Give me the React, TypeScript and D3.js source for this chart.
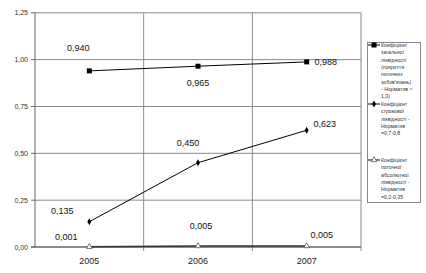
import React from "react";
import * as d3 from "d3";

const years = ["2005", "2006", "2007"];
const generalLiquidity = [0.94, 0.965, 0.988];
const quickLiquidity = [0.135, 0.45, 0.623];
const absoluteLiquidity = [0.001, 0.005, 0.005];
const yTicks = [0, 0.25, 0.5, 0.75, 1.0, 1.25];

const legendTexts = [
  ["Коефіцієнт", "загальної", "ліквідності", "(покриття", "поточних", "зобов'язань)", "- Норматив >", "1,0)"],
  ["Коефіцієнт", "строкової", "ліквідності -", "Норматив", "=0,7-0,8"],
  ["Коефіцієнт", "поточної", "абсолютної", "ліквідності -", "Норматив", "=0,2-0,35"],
];

// label offsets (px) relative to point: [dx, dy]
const labelOffsets = [
  [[-11, -23], [0, 17], [19, 0]],
  [[-27, -11], [-10, -20], [18, -6]],
  [[-23, -10], [3, -20], [15, -11]],
];

const fmt = (v: number) => v.toFixed(3).replace(".", ",");
const fmtTick = (v: number) => v.toFixed(2).replace(".", ",");

export default function App() {
  const W = 426, H = 273;
  const left = 35, right = 361, top = 12.8, bottom = 247;
  const x = d3.scaleBand().domain(years).range([left, right]).padding(0);
  const y = d3.scaleLinear().domain([0, 1.25]).range([bottom, top]);
  const cx = (d: string) => (x(d) as number) + x.bandwidth() / 2;
  const line = d3.line<number>().x((_, i) => cx(years[i])).y((v) => y(v));
  const series = [generalLiquidity, quickLiquidity, absoluteLiquidity];
  const font = "'Liberation Sans', Arial, sans-serif";

  const marker = (k: number, px: number, py: number, key: string) => {
    if (k === 0) return <rect key={key} x={px - 2.5} y={py - 2.5} width={5} height={5} fill="#000" />;
    if (k === 1) return <path key={key} d={d3.symbol(d3.symbolDiamond, 14)() as string} transform={`translate(${px},${py})`} fill="#000" />;
    return <path key={key} d={d3.symbol(d3.symbolTriangle, 14)() as string} transform={`translate(${px},${py})`} fill="#fff" stroke="#555" strokeWidth={0.8} />;
  };

  const legendY = [45, 104, 160];
  const lineH = 7.3;

  return (
    <svg width={W} height={H} style={{ position: "absolute", left: 0, top: 0, background: "#fff" }} fontFamily={font}>
      <rect x={0} y={0} width={W} height={H} fill="#fff" />
      {yTicks.map((t) => (
        <line key={"g" + t} x1={left} x2={right} y1={y(t)} y2={y(t)} stroke="#8a8a8a" strokeWidth={1} />
      ))}
      {years.slice(1).map((yr) => (
        <line key={"v" + yr} x1={x(yr) as number} x2={x(yr) as number} y1={top} y2={bottom + 4} stroke="#8a8a8a" strokeWidth={1} />
      ))}
      <line x1={right} x2={right} y1={top} y2={bottom + 4} stroke="#8a8a8a" strokeWidth={1} />
      <line x1={left} x2={left} y1={top} y2={bottom} stroke="#666" strokeWidth={1} />
      {yTicks.map((t) => (
        <g key={"t" + t}>
          <line x1={left - 4} x2={left} y1={y(t)} y2={y(t)} stroke="#666" />
          <text x={28} y={y(t)} textAnchor="end" dominantBaseline="central" fontSize={7} fill="#333">{fmtTick(t)}</text>
        </g>
      ))}
      <line x1={left - 4} x2={right} y1={bottom} y2={bottom} stroke="#555" strokeWidth={1} />
      {years.map((yr) => (
        <text key={"x" + yr} x={cx(yr)} y={261} textAnchor="middle" dominantBaseline="central" fontSize={9} fill="#222">{yr}</text>
      ))}
      {series.map((s, k) => (
        <g key={"s" + k}>
          <path d={line(s) as string} fill="none" stroke={k === 2 ? "#333" : "#000"} strokeWidth={k === 2 ? 1.5 : 1} />
          {s.map((v, i) => marker(k, cx(years[i]), y(v), `m${k}${i}`))}
          {s.map((v, i) => (
            <text key={`l${k}${i}`} x={cx(years[i]) + labelOffsets[k][i][0]} y={y(v) + labelOffsets[k][i][1]} textAnchor="middle" dominantBaseline="central" fontSize={9} fill="#111">{fmt(v)}</text>
          ))}
        </g>
      ))}
      <rect x={367.5} y={42.5} width={53} height={160} fill="#fff" stroke="#888" strokeWidth={1} />
      {legendTexts.map((lines, k) => (
        <g key={"lg" + k}>
          <line x1={368} x2={380} y1={legendY[k]} y2={legendY[k]} stroke="#000" strokeWidth={1} />
          {marker(k, 374, legendY[k], "lm" + k)}
          {lines.map((t, j) => (
            <text key={j} x={381} y={legendY[k] + j * lineH} dominantBaseline="central" fontSize={5.2} fill="#333">{t}</text>
          ))}
        </g>
      ))}
    </svg>
  );
}
